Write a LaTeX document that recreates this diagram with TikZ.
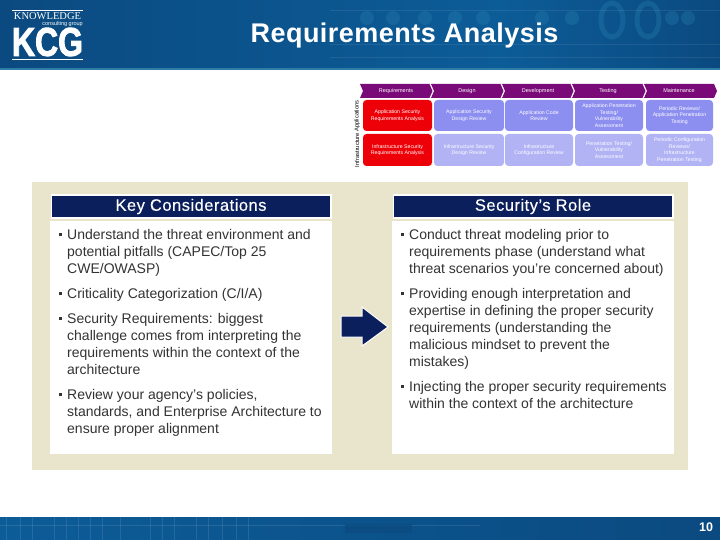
\documentclass[tikz,border=0pt]{standalone}
\usepackage{fontspec}
\setmainfont{Liberation Sans}
\usetikzlibrary{positioning, calc}
\definecolor{bandblue}{HTML}{0B4A80}
\definecolor{bandmid}{HTML}{0C5C98}
\definecolor{bandline}{HTML}{2F7DA6}
\definecolor{blobblue}{HTML}{2A86B4}
\definecolor{panelbeige}{HTML}{E9E4CC}
\definecolor{headnavy}{HTML}{0A1F5C}
\definecolor{phasepurple}{HTML}{7A0A78}
\definecolor{cellred}{HTML}{EE0008}
\definecolor{cellblue}{HTML}{8C8EF0}
\definecolor{celllight}{HTML}{B1B3F5}
\newfontfamily\logoserif{Liberation Serif}
\newfontfamily\logofont[FakeBold=2.5]{Liberation Sans}
\newfontfamily\headfont[LetterSpace=3,FakeBold=0.3]{Liberation Sans}
\newfontfamily\titlefont[LetterSpace=1.8]{Liberation Sans}
\newcommand{\sq}{\raisebox{3pt}{\rule{3pt}{3pt}}\hspace{5pt}}
\newcommand{\nl}{\\\hspace*{8pt}}
\tikzset{
  headbox/.style={draw=white, line width=1.5pt, fill=headnavy, text=white, minimum height=23pt, font=\headfont\fontsize{16.5}{18}\selectfont},
  bodytext/.style={anchor=north west, inner sep=0pt, align=left, font=\fontsize{14}{17}\selectfont, text=black!80},
  phase/.style={text=white, inner sep=0pt, font=\fontsize{5.5}{6}\selectfont},
  cell/.style={rounded corners=3.5pt, inner sep=0pt, align=center, text=white, font=\fontsize{5.2}{6.6}\selectfont},
  rowlabel/.style={rotate=90, inner sep=0pt, font=\fontsize{5.8}{6}\selectfont}
}
\begin{document}
\begin{tikzpicture}[x=1pt,y=-1pt]
  \useasboundingbox (0,0) rectangle (720,540);
  % bands
  \fill[left color=bandblue, right color=bandmid] (0,0) rectangle (500,68);
  \fill[left color=bandmid, right color=bandblue] (500,0) rectangle (720,68);
  \foreach \bx in {367,393,425,455,483,542,572,672,688}
    \fill[blobblue, opacity=.3] (\bx,18) circle (7);
  \foreach \bx in {612,648}
    \draw[blobblue, opacity=.3, line width=5pt] (\bx,20) ellipse (11 and 17);
  \foreach \by in {10,44,57}
    \draw[white, opacity=.08, line width=.5pt] (330,\by) -- (720,\by);
  \fill[bandline] (0,68) rectangle (720,70);
  \fill[left color=bandmid, right color=bandblue] (0,517) rectangle (720,540);
  \foreach \gx in {6,20,32,54,66,78,90,102,120,150,162,174,196,208,222,236,248}
    \draw[white, opacity=.1, line width=.5pt] (\gx,517) -- (\gx,540);
  \draw[white, opacity=.1, line width=.5pt] (0,525) -- (480,525);
  \fill[bandblue, opacity=.7] (345,524) rectangle (412,533);
  \node[text=white, font=\titlefont\fontsize{27}{30}\selectfont\bfseries] (title) at (404.5,35.5) {Requirements Analysis};
  \node[text=white, font=\fontsize{12.5}{14}\selectfont\bfseries] (pagenum) at (706,527) {10};
  % logo
  \draw[white, line width=0.7pt] (12,10.7) -- (83,10.7);
  \draw[white, line width=0.7pt] (12,59.3) -- (83,59.3);
  \node[text=white, inner sep=0pt, font=\logoserif\fontsize{10.5}{11}\selectfont] (logotop) at (47.5,16.5) {KNOWLEDGE};
  \node[text=white, inner sep=0pt, anchor=east, font=\fontsize{5.5}{6}\selectfont] (logosub) at (83,24.5) {consulting group};
  \node[text=white, inner sep=0pt, font=\logofont\fontsize{39}{40}\selectfont\bfseries] (logo) at (47.5,42) {\resizebox{71pt}{28pt}{KCG}};
  % lifecycle chart
  \foreach \xa/\xb in {360/431, 431/502, 502/572, 572/644, 644/715}
    \fill[phasepurple] (\xa,84) -- (\xb-1,84) -- (\xb+2,91) -- (\xb-1,98) -- (\xa,98) -- (\xa+3,91) -- cycle;
  \foreach \xb in {431,502,572,644}
    \draw[white, line width=.7pt] (\xb-1,84) -- (\xb+2,91) -- (\xb-1,98);
  \foreach \name/\cx/\lab in {preq/396/Requirements, pdes/467/Design, pdev/538/Development, ptes/608/Testing, pmai/679/Maintenance}
    \node[phase] (\name) at (\cx,91) {\lab};
  \node[rowlabel] (rowapp) at (357,116) {Applications};
  \node[rowlabel] (rowinf) at (357,150) {Infrastructure};
  \foreach \name/\xa/\xb/\ya/\yb/\col/\lab in {
    a1/363/432/100/131/cellred/{Application Security\\Requirements Analysis},
    a2/434/504/100/131/cellblue/{Application Security\\Design Review},
    a3/505/573/100/131/cellblue/{Application Code\\Review},
    a4/575/643/100/131/cellblue/{Application Penetration\\Testing/\\Vulnerability\\Assessment},
    a5/646/713/100/131/cellblue/{Periodic Reviews/\\Application Penetration\\Testing},
    b1/363/432/134/166/cellred/{Infrastructure Security\\Requirements Analysis},
    b2/434/504/134/166/celllight/{Infrastructure Security\\Design Review},
    b3/505/573/134/166/celllight/{Infrastructure\\Configuration Review},
    b4/575/643/134/166/celllight/{Penetration Testing/\\Vulnerability\\Assessment},
    b5/646/713/134/166/celllight/{Periodic Configuration\\Reviews/\\Infrastructure\\Penetration Testing}}
    \path[cell, fill=\col] (\xa,\ya) rectangle (\xb,\yb) node[midway, cell] (\name) {\lab};
  % panel
  \fill[panelbeige] (32,182) rectangle (688,470);
  \fill[white] (50,221) rectangle (332,454);
  \fill[white] (392,221) rectangle (674,454);
  \node[headbox, minimum width=279.5pt] (keyhead) at (191,206.5) {Key Considerations};
  \node[headbox, minimum width=279.5pt] (rolehead) at (533,206.5) {Security’s Role};
  % left column
  \node[bodytext] (k1) at (59,229) {\sq Understand the threat environment and\nl potential pitfalls (CAPEC/Top 25\nl CWE/OWASP)};
  \node[bodytext] (k2) at (59,288) {\sq Criticality Categorization (C/I/A)};
  \node[bodytext] (k3) at (59,313) {\sq Security Requirements: biggest\nl challenge comes from interpreting the\nl requirements within the context of the\nl architecture};
  \node[bodytext] (k4) at (59,389) {\sq Review your agency’s policies,\nl standards, and Enterprise Architecture to\nl ensure proper alignment};
  % right column
  \node[bodytext] (r1) at (401,229) {\sq Conduct threat modeling prior to\nl requirements phase (understand what\nl threat scenarios you’re concerned about)};
  \node[bodytext] (r2) at (401,288) {\sq Providing enough interpretation and\nl expertise in defining the proper security\nl requirements (understanding the\nl malicious mindset to prevent the\nl mistakes)};
  \node[bodytext] (r3) at (401,381) {\sq Injecting the proper security requirements\nl within the context of the architecture};
  % block arrow
  \draw[white, line width=1pt, fill=headnavy] (341,316) -- (362,316) -- (362,307) -- (388,327) -- (362,346) -- (362,337) -- (341,337) -- cycle;
\end{tikzpicture}
\end{document}
